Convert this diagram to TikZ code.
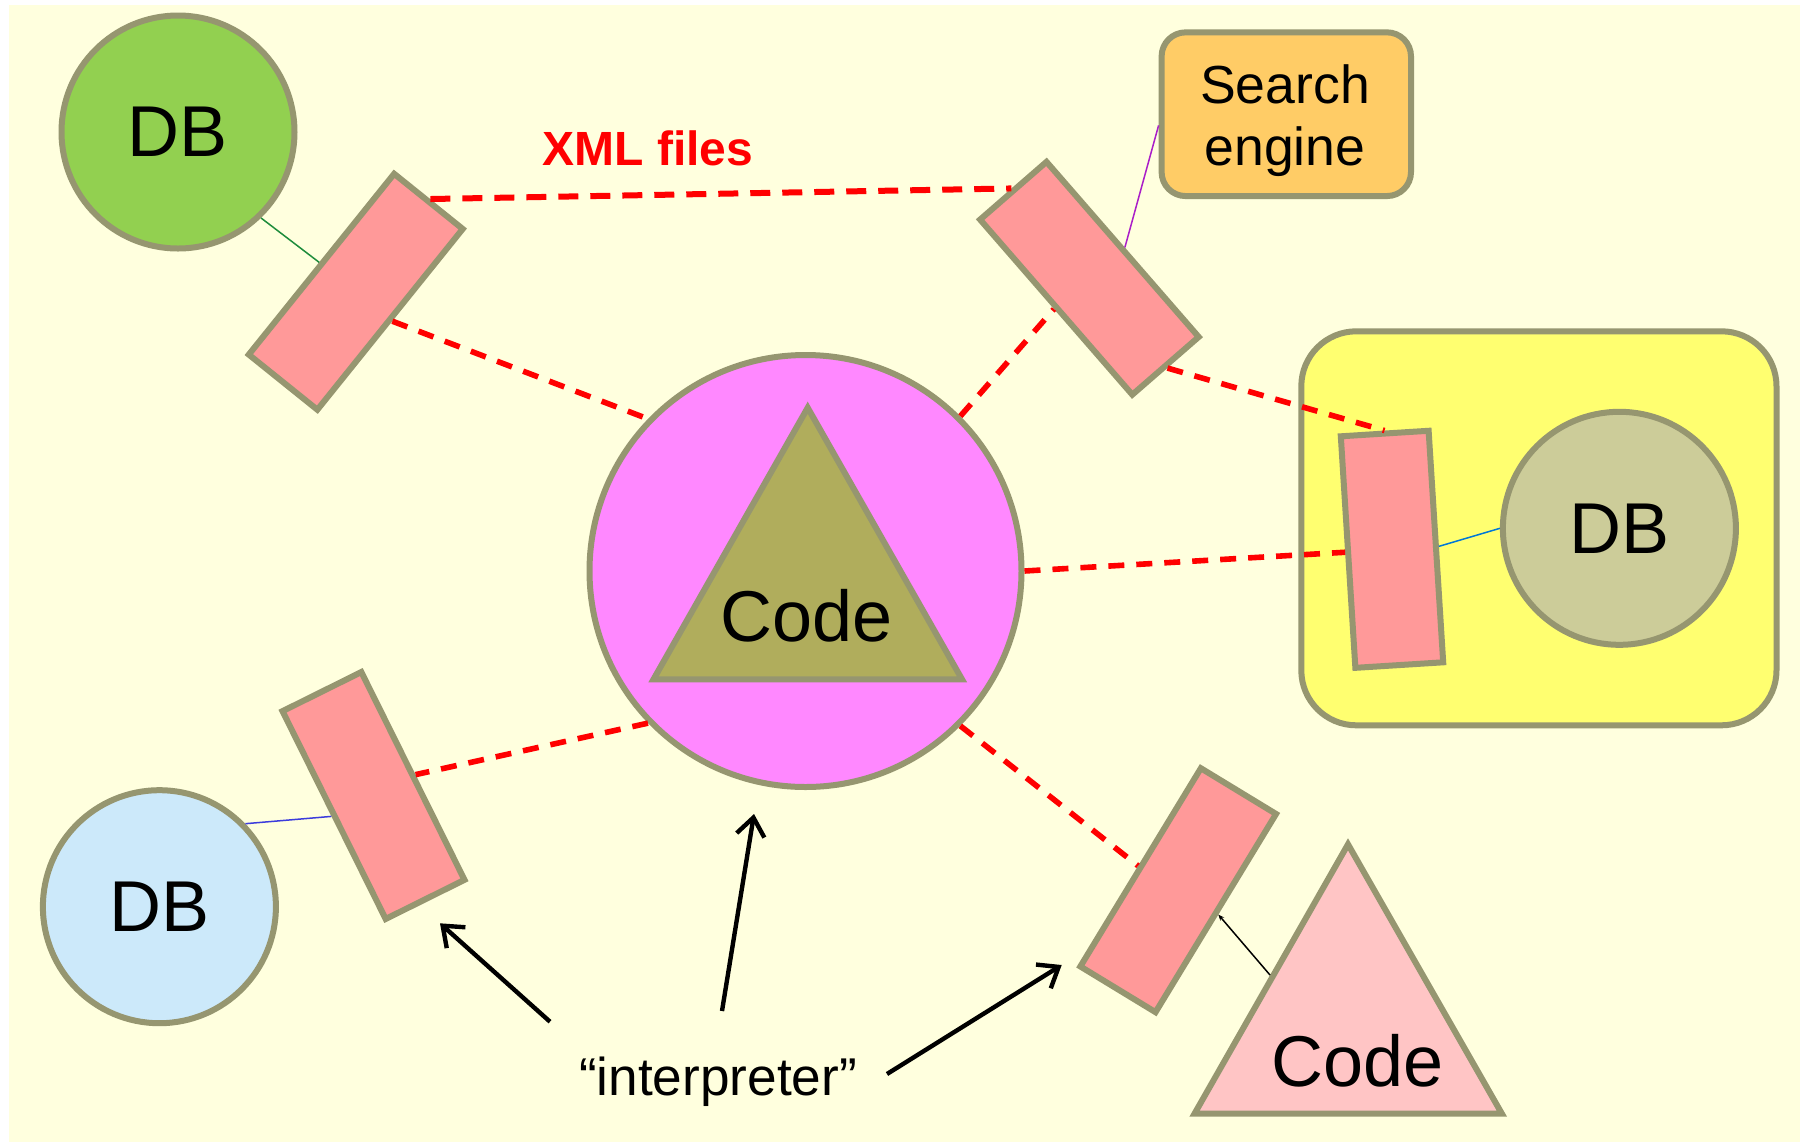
\documentclass[tikz,border=0pt]{standalone}
\usepackage{fontspec}
\setmainfont{Liberation Sans}
\usetikzlibrary{arrows.meta,calc}

\definecolor{bgcream}{RGB}{255,255,222}
\definecolor{edge}{RGB}{150,150,112}
\definecolor{dbgreen}{RGB}{146,208,80}
\definecolor{dbkhaki}{RGB}{204,204,153}
\definecolor{dbblue}{RGB}{204,233,250}
\definecolor{hub}{RGB}{255,136,255}
\definecolor{olive}{RGB}{176,173,92}
\definecolor{codepink}{RGB}{255,197,197}
\definecolor{adapter}{RGB}{255,153,153}
\definecolor{engine}{RGB}{255,204,102}
\definecolor{zone}{RGB}{255,255,112}
\definecolor{tiegreen}{RGB}{30,140,60}
\definecolor{tiepurple}{RGB}{170,30,200}
\definecolor{tieblue}{RGB}{0,120,215}
\definecolor{tieindigo}{RGB}{60,60,220}

\begin{document}
\begin{tikzpicture}[x=0.5pt, y=-0.5pt,
  shapeline/.style={draw=edge, line width=3pt},
  db/.style={shapeline, circle, inner sep=0pt, minimum size=116.5pt,
             font=\fontsize{36}{40}\selectfont},
  adapterbox/.style={shapeline, rectangle, fill=adapter, inner sep=0pt,
                     minimum width=44pt, minimum height=116pt},
  bigtext/.style={font=\fontsize{36}{40}\selectfont, anchor=base},
  xmlflow/.style={draw=red, line width=3pt, dash pattern=on 10pt off 6pt},
  link/.style={draw=red, line width=2.8pt, dash pattern=on 8pt off 6pt},
  tie/.style={line width=0.75pt},
  pointer/.style={line width=2.2pt, -{Straight Barb[length=9pt,width=14pt]}},
]
\useasboundingbox (0,0) rectangle (1811,1142);
\fill[white] (0,0) rectangle (1811,1142);
\fill[bgcream] (9,5) rectangle (1800,1142);

% enclosing zone on the right
\node[shapeline, fill=zone, rounded corners=27.5pt, inner sep=0pt,
      minimum width=237.6pt, minimum height=197pt] (zone) at (1538.9,528.3) {};

% data stores
\node[db, fill=dbgreen] (dbA) at (178,132) {DB};
\node[db, fill=dbblue]  (dbB) at (159.4,906.7) {DB};
\node[db, fill=dbkhaki] (dbC) at (1619.4,528.3) {DB};

% search engine
\node[shapeline, fill=engine, rounded corners=12pt, inner sep=0pt,
      minimum width=124.7pt, minimum height=81.85pt] (se) at (1286.3,114.2) {};
\node[font=\fontsize{26.8}{31}\selectfont, align=center] (setext)
      at (1285,120.2) {Search\\engine};

% central code hub
\node[shapeline, circle, fill=hub, inner sep=0pt, minimum size=216pt] (hub) at (805.5,571) {};
\draw[shapeline, fill=olive] (807.7,407.7) -- (962,679.3) -- (653.5,679.3) -- cycle;
\node[bigtext] (hubcode) at (806.7,641.7) {Code};

% outside code
\coordinate (ctop) at (1348,844.3);
\coordinate (cright) at (1501.9,1113.7);
\coordinate (cleft) at (1194.5,1113.7);
\draw[shapeline, fill=codepink] (ctop) -- (cright) -- (cleft) -- cycle;
\node[bigtext] (code2) at (1357.6,1086.7) {Code};
\coordinate (codeport) at (1270,975);

% adapters
\node[adapterbox, rotate=-38.8] (r1) at (355.75,291.75) {};
\node[adapterbox, rotate=41]    (r3) at (1089.4,278.25) {};
\node[adapterbox, rotate=3.6]   (r4) at (1392,549.3) {};
\node[adapterbox, rotate=26.4]  (r5) at (373.5,795.5) {};
\node[adapterbox, rotate=-31.3] (r6) at (1178.2,890.2) {};

% XML exchange
\node[font=\bfseries\fontsize{24}{28}\selectfont, text=red, anchor=base] (xml) at (648,165) {XML files};
\draw[xmlflow] (r1.north) -- (r3.north);
\draw[link] (r1.east) -- (hub.136);
\draw[link] (hub.45) -- (r3.west);
\draw[link] (r3.south) -- (r4.north);
\draw[link] (hub.east) -- (r4.west);
\draw[link] (hub.224) -- (r5.east);
\draw[link] (hub.315) -- (r6.west);

% adapter attachments
\draw[tie, tiegreen] (dbA.-46) -- (r1.west);
\draw[tie, tiepurple] (se.185) -- (r3.east);
\draw[tie, tieblue] (r4.east) -- (dbC.west);
\draw[tie, tieindigo] (dbB.44) -- (r5.west);
\draw[tie, black, {Stealth[length=3pt,width=2.5pt]}-] (r6.east) -- (codeport);

% interpreter label and arrows
\node[font=\fontsize{26.6}{30}\selectfont, anchor=base] (interp) at (718,1095) {“interpreter”};
\coordinate (tailA) at (550,1021.7);
\coordinate (tipA) at (440,923.3);
\coordinate (tailB) at (722,1011);
\coordinate (tipB) at (754,814);
\coordinate (tailC) at (887,1074);
\coordinate (tipC) at (1061.7,965);
\draw[pointer] (tailA) -- (tipA);
\draw[pointer] (tailB) -- (tipB);
\draw[pointer] (tailC) -- (tipC);
\end{tikzpicture}
\end{document}
